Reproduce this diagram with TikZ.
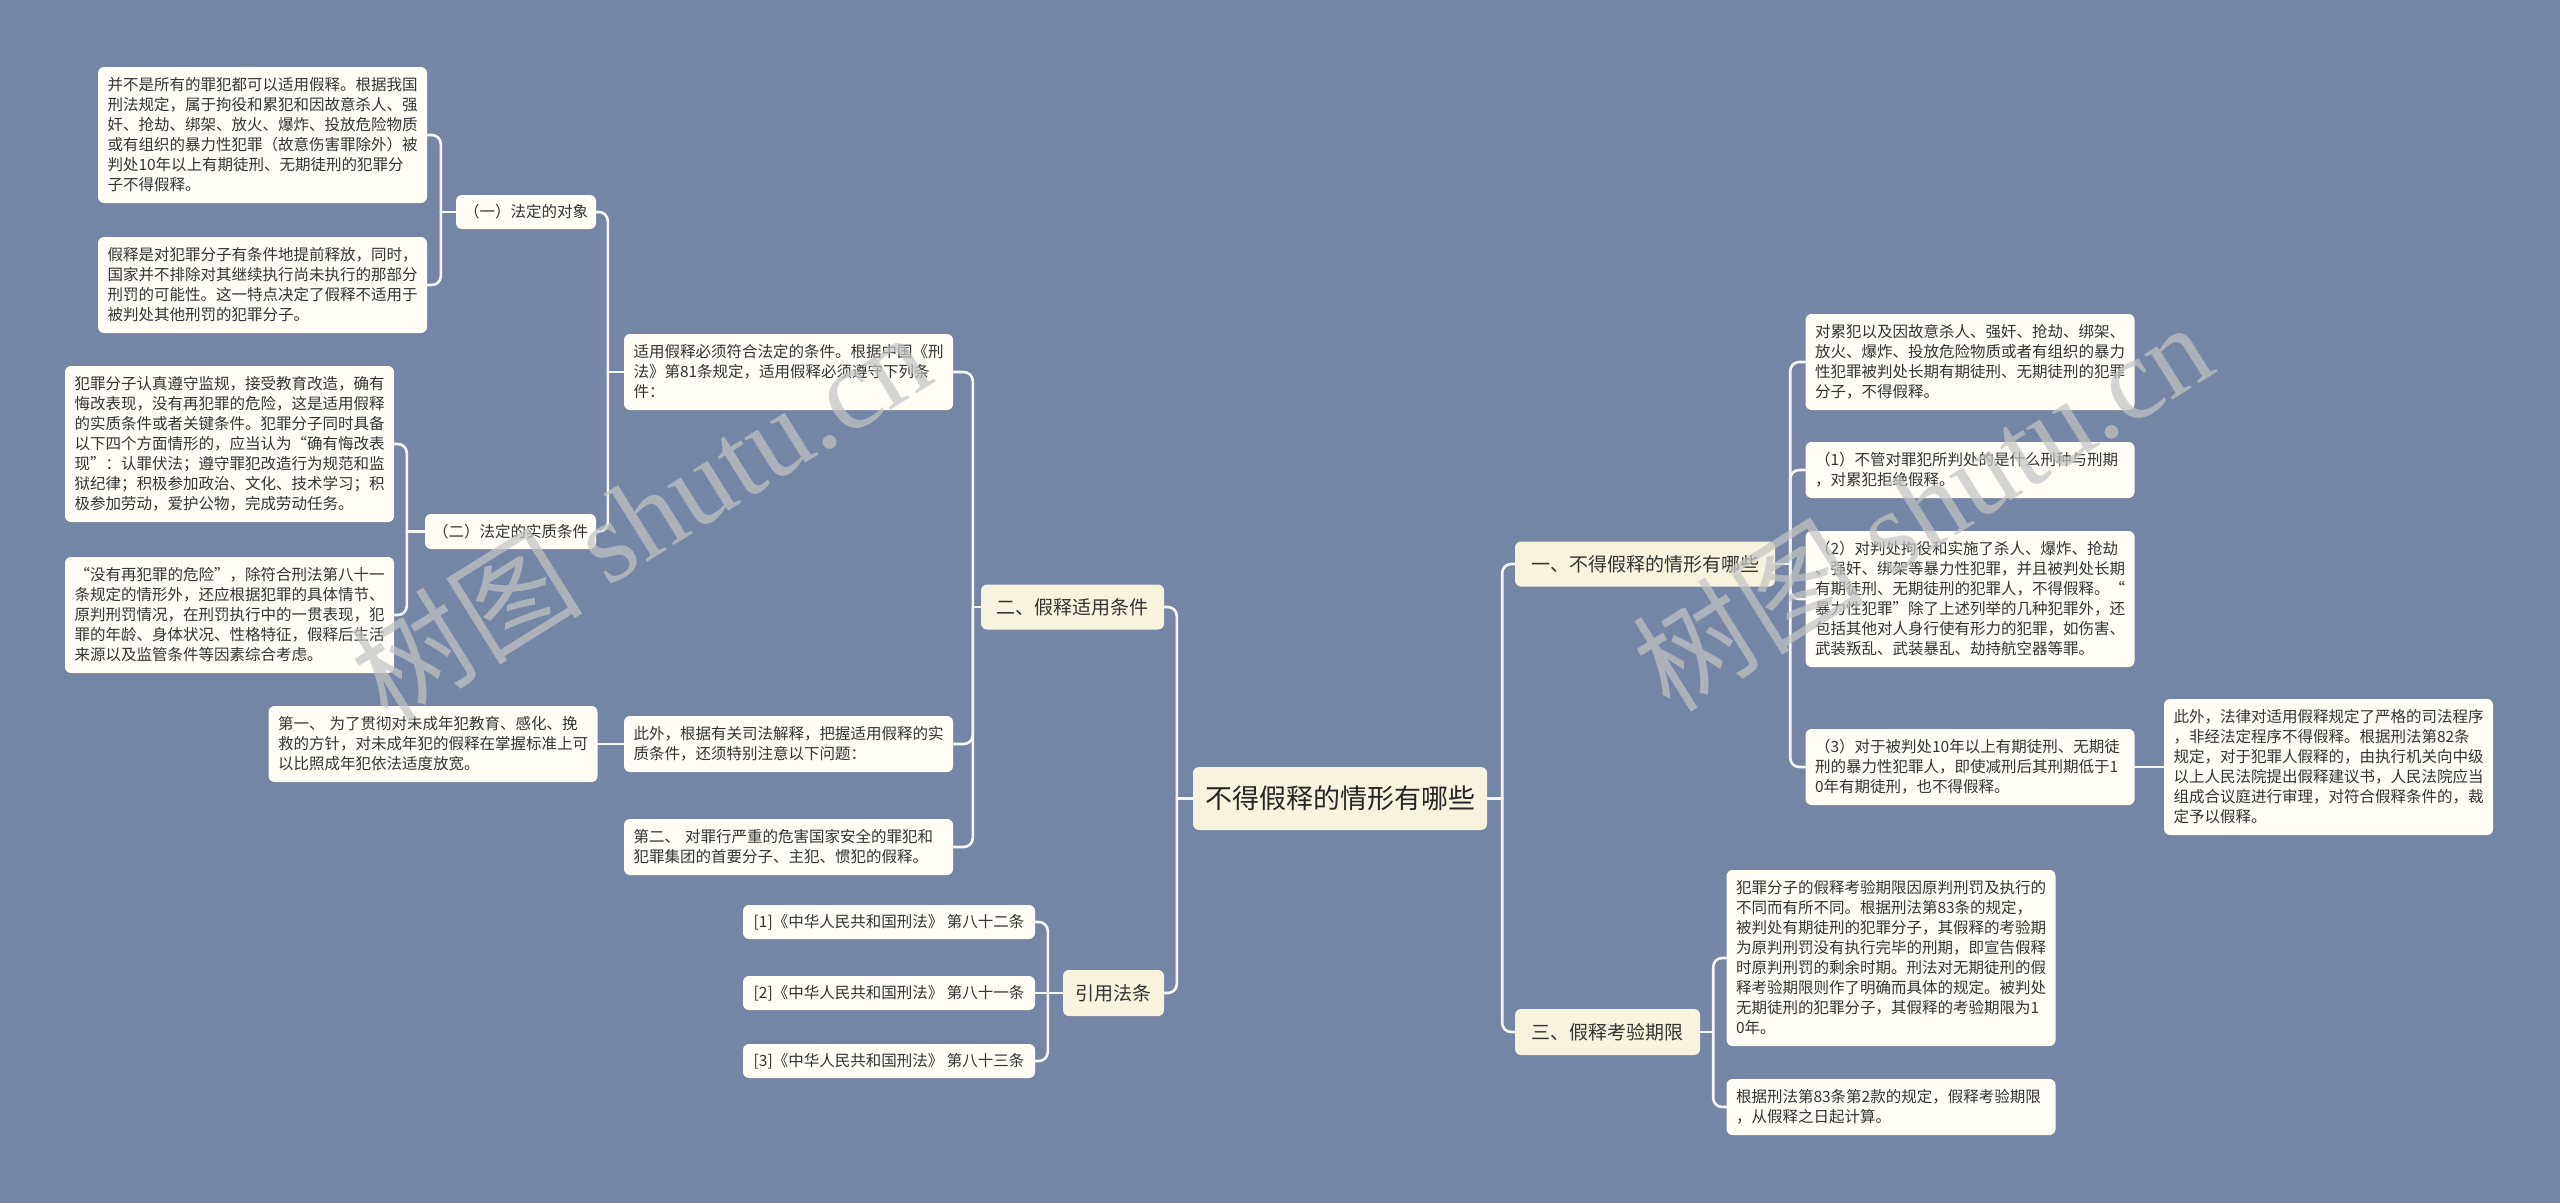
\documentclass[tikz,border=0pt]{standalone}
\usepackage{fontspec}
\setmainfont{Noto Sans CJK SC}
\newfontfamily\wmlatin{Liberation Serif}
\usetikzlibrary{shadows}
\definecolor{bgc}{HTML}{7585A6}
\definecolor{leafc}{HTML}{FFFDF6}
\definecolor{mainc}{HTML}{F8F3DE}
\definecolor{txtc}{HTML}{333333}
\definecolor{linec}{HTML}{F6F6F6}
\definecolor{wmc}{HTML}{C3C3C3}
\newcommand\leaffont{\fontsize{15.5pt}{20pt}\selectfont}
\newcommand\brfont{\fontsize{19pt}{24pt}\selectfont}
\newcommand\rtfont{\fontsize{27pt}{32pt}\selectfont}
\pgfdeclarelayer{bgfill}
\pgfdeclarelayer{back}
\pgfdeclarelayer{front}
\pgfsetlayers{bgfill,back,main,front}
\tikzset{
  box/.style={rounded corners=6pt, text=txtc,
    drop shadow={shadow xshift=0pt,shadow yshift=-1.5pt,opacity=0.18}},
  leaf/.style={box, fill=leafc, font=\leaffont, align=left,
    inner xsep=9.5pt, inner ysep=0pt, text width=310pt},
  tag/.style={box, fill=leafc, font=\leaffont, inner xsep=6pt,
    inner ysep=0pt, minimum height=34pt},
  mainbr/.style={box, fill=mainc, font=\brfont, inner xsep=8pt,
    inner ysep=0pt, minimum height=45pt},
  rootbox/.style={box, fill=mainc, font=\rtfont, text=black!85,
    inner xsep=8pt, inner ysep=0pt, minimum width=294pt, minimum height=63pt},
  conn/.style={draw=linec, line width=2.6pt, rounded corners=9pt, line cap=round},
  wmark/.style={text=wmc, opacity=0.72, rotate=32, inner sep=0pt}
}
\begin{document}
\begin{tikzpicture}[x=1pt,y=-1pt]
\begin{pgfonlayer}{bgfill}
\fill[bgc] (0,0) rectangle (2560,1203);
\end{pgfonlayer}
\useasboundingbox (0,0) rectangle (2560,1203);

% root
\node[rootbox] (root) at (1340,798.5) {不得假释的情形有哪些};

% ---------- left side ----------
\node[mainbr, minimum width=183pt] (b2) at (1072.5,607) {二、假释适用条件};
\node[mainbr, minimum width=101pt, minimum height=46pt] (q) at (1113.5,993) {引用法条};

\node[leaf, minimum height=76pt] (c) at (788.5,372) {适用假释必须符合法定的条件。根据中国《刑\\
法》第81条规定，适用假释必须遵守下列条\\
件：};
\node[leaf, minimum height=56pt] (e) at (788.5,744) {此外，根据有关司法解释，把握适用假释的实\\
质条件，还须特别注意以下问题：};
\node[leaf, minimum height=56pt] (f) at (788.5,847) {第二、 对罪行严重的危害国家安全的罪犯和\\
犯罪集团的首要分子、主犯、惯犯的假释。};
\node[leaf, minimum height=76pt] (d) at (433,744) {第一、 为了贯彻对未成年犯教育、感化、挽\\
救的方针，对未成年犯的假释在掌握标准上可\\
以比照成年犯依法适度放宽。};

\node[tag, minimum width=140pt] (n1) at (526,212) {（一）法定的对象};
\node[tag, minimum width=171pt, minimum height=35pt] (n2) at (510.5,531.5) {（二）法定的实质条件};

\node[leaf, minimum height=136pt] (a1) at (262.5,135) {并不是所有的罪犯都可以适用假释。根据我国\\
刑法规定，属于拘役和累犯和因故意杀人、强\\
奸、抢劫、绑架、放火、爆炸、投放危险物质\\
或有组织的暴力性犯罪（故意伤害罪除外）被\\
判处10年以上有期徒刑、无期徒刑的犯罪分\\
子不得假释。};
\node[leaf, minimum height=96pt] (a2) at (262.5,285) {假释是对犯罪分子有条件地提前释放，同时，\\
国家并不排除对其继续执行尚未执行的那部分\\
刑罚的可能性。这一特点决定了假释不适用于\\
被判处其他刑罚的犯罪分子。};

\node[leaf, minimum height=156pt] (bb1) at (229.5,444) {犯罪分子认真遵守监规，接受教育改造，确有\\
悔改表现，没有再犯罪的危险，这是适用假释\\
的实质条件或者关键条件。犯罪分子同时具备\\
以下四个方面情形的，应当认为“确有悔改表\\
现”：认罪伏法；遵守罪犯改造行为规范和监\\
狱纪律；积极参加政治、文化、技术学习；积\\
极参加劳动，爱护公物，完成劳动任务。};
\node[leaf, minimum height=116pt] (bb2) at (229.5,615) {“没有再犯罪的危险”，除符合刑法第八十一\\
条规定的情形外，还应根据犯罪的具体情节、\\
原判刑罚情况，在刑罚执行中的一贯表现，犯\\
罪的年龄、身体状况、性格特征，假释后生活\\
来源以及监管条件等因素综合考虑。};

\node[tag, minimum width=292pt] (l1) at (889,922) {[1]《中华人民共和国刑法》 第八十二条};
\node[tag, minimum width=292pt] (l2) at (889,993) {[2]《中华人民共和国刑法》 第八十一条};
\node[tag, minimum width=292pt] (l3) at (889,1061) {[3]《中华人民共和国刑法》 第八十三条};

% ---------- right side ----------
\node[mainbr, minimum width=260pt] (b1) at (1645,564) {一、不得假释的情形有哪些};
\node[mainbr, minimum width=185pt, minimum height=46pt] (b3) at (1607.5,1032) {三、假释考验期限};

\node[leaf, minimum height=96pt] (r1) at (1970,362) {对累犯以及因故意杀人、强奸、抢劫、绑架、\\
放火、爆炸、投放危险物质或者有组织的暴力\\
性犯罪被判处长期有期徒刑、无期徒刑的犯罪\\
分子，不得假释。};
\node[leaf, minimum height=56pt] (r2) at (1970,470) {（1）不管对罪犯所判处的是什么刑种与刑期\\
，对累犯拒绝假释。};
\node[leaf, minimum height=136pt] (r3) at (1970,599) {（2）对判处拘役和实施了杀人、爆炸、抢劫\\
、强奸、绑架等暴力性犯罪，并且被判处长期\\
有期徒刑、无期徒刑的犯罪人，不得假释。“\\
暴力性犯罪”除了上述列举的几种犯罪外，还\\
包括其他对人身行使有形力的犯罪，如伤害、\\
武装叛乱、武装暴乱、劫持航空器等罪。};
\node[leaf, minimum height=76pt] (r4) at (1970,767) {（3）对于被判处10年以上有期徒刑、无期徒\\
刑的暴力性犯罪人，即使减刑后其刑期低于1\\
0年有期徒刑，也不得假释。};
\node[leaf, minimum height=136pt] (r5) at (2328.5,767) {此外，法律对适用假释规定了严格的司法程序\\
，非经法定程序不得假释。根据刑法第82条\\
规定，对于犯罪人假释的，由执行机关向中级\\
以上人民法院提出假释建议书，人民法院应当\\
组成合议庭进行审理，对符合假释条件的，裁\\
定予以假释。};

\node[leaf, minimum height=176pt] (s1) at (1891,958) {犯罪分子的假释考验期限因原判刑罚及执行的\\
不同而有所不同。根据刑法第83条的规定，\\
被判处有期徒刑的犯罪分子，其假释的考验期\\
为原判刑罚没有执行完毕的刑期，即宣告假释\\
时原判刑罚的剩余时期。刑法对无期徒刑的假\\
释考验期限则作了明确而具体的规定。被判处\\
无期徒刑的犯罪分子，其假释的考验期限为1\\
0年。};
\node[leaf, minimum height=56pt] (s2) at (1891,1107) {根据刑法第83条第2款的规定，假释考验期限\\
，从假释之日起计算。};

% ---------- connectors ----------
\begin{pgfonlayer}{back}
\draw[conn] (root.west) -- ++(-16,0) coordinate (rl);
\draw[conn] (rl) |- (b2.east);
\draw[conn] (rl) |- (q.east);
\draw[conn] (root.east) -- ++(15,0) coordinate (rr);
\draw[conn] (rr) |- (b1.west);
\draw[conn] (rr) |- (b3.west);

\draw[conn] (b2.west) -- ++(-8,0) coordinate (s2l);
\draw[conn] (s2l) |- (c.east);
\draw[conn] (s2l) |- (e.east);
\draw[conn] (s2l) |- (f.east);

\draw[conn] (c.west) -- ++(-16,0) coordinate (scl);
\draw[conn] (scl) |- (n1.east);
\draw[conn] (scl) |- (n2.east);

\draw[conn] (n1.west) -- ++(-15,0) coordinate (sn1);
\draw[conn] (sn1) |- (a1.east);
\draw[conn] (sn1) |- (a2.east);

\draw[conn] (n2.west) -- ++(-18,0) coordinate (sn2);
\draw[conn] (sn2) |- (bb1.east);
\draw[conn] (sn2) |- (bb2.east);

\draw[conn] (e.west) -- (d.east);

\draw[conn] (q.west) -- ++(-15,0) coordinate (sq);
\draw[conn] (sq) |- (l1.east);
\draw[conn] (sq) -- (l2.east);
\draw[conn] (sq) |- (l3.east);

\draw[conn] (b1.east) -- ++(15,0) coordinate (sb1);
\draw[conn] (sb1) |- (r1.west);
\draw[conn] (sb1) |- (r2.west);
\draw[conn] (sb1) |- (r3.west);
\draw[conn] (sb1) |- (r4.west);
\draw[conn] (r4.east) -- (r5.west);

\draw[conn] (b3.east) -- ++(13,0) coordinate (sb3);
\draw[conn] (sb3) |- (s1.west);
\draw[conn] (sb3) |- (s2.west);
\end{pgfonlayer}

% ---------- watermark ----------
\begin{pgfonlayer}{front}
\node[wmark] (wm1) at (640,515) {\fontsize{116pt}{116pt}\selectfont 树图 {\wmlatin shutu.cn}};
\node[wmark] (wm2) at (1922,505) {\fontsize{116pt}{116pt}\selectfont 树图 {\wmlatin shutu.cn}};
\end{pgfonlayer}
\end{tikzpicture}
\end{document}
